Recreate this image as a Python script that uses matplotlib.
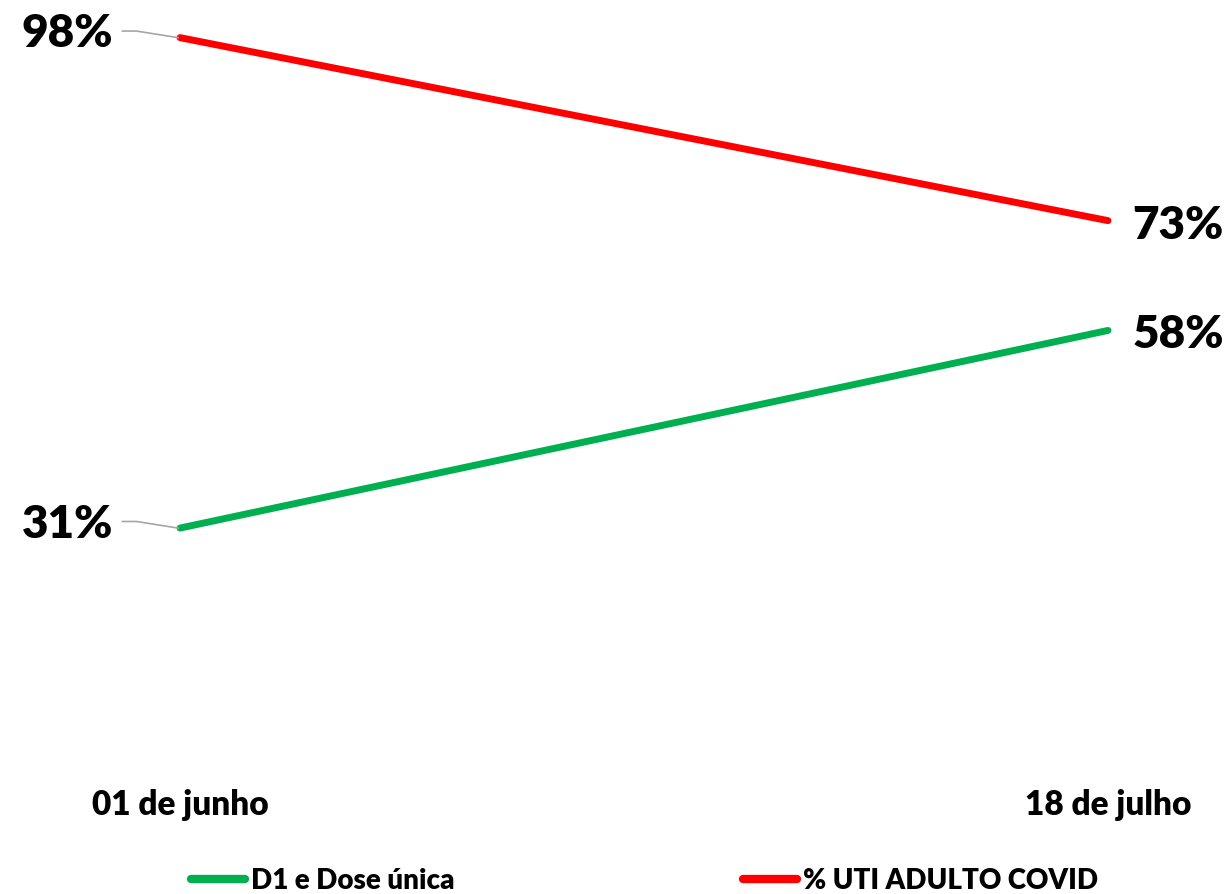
import matplotlib
matplotlib.use('Agg')
import matplotlib.pyplot as plt
from matplotlib.lines import Line2D

# data
datas = ['01 de junho', '18 de julho']
d1_dose_unica = [0.31, 0.58]
uti_adulto = [0.98, 0.73]
series_names = ['D1 e Dose única', '% UTI ADULTO COVID']
cores = ['#00b050', '#ff0000']

plt.rcParams['font.family'] = ['Lato', 'DejaVu Sans']
PESO = 'heavy'

W, H = 1232, 894
fig = plt.figure(figsize=(W / 100, H / 100), dpi=100)
ax = fig.add_axes([0, 0, 1, 1])

# pixel layout -> data limits
x0, x1 = 180, 1108
ppx = x1 - x0
ax.set_xlim(-x0 / ppx, (W - x0) / ppx)
y_zero, ppy = 755, 732  # pixel row of 0%, pixels per 100%
ax.set_ylim(-(H - y_zero) / ppy, y_zero / ppy)
ax.axis('off')

xs = list(range(len(datas)))
for vals, nome, cor in zip([d1_dose_unica, uti_adulto], series_names, cores):
    ax.plot(xs, vals, color=cor, lw=5, solid_capstyle='round', label=nome)

def pct(v):
    return f'{round(v * 100)}%'

# left labels with leader lines
for vals in (uti_adulto, d1_dose_unica):
    v = vals[0]
    dy = 0.009
    ax.plot([-0.062, -0.047, -0.002], [v + dy, v + dy, v], color='#a6a6a6', lw=1.2)
    ax.text(-0.072, v + dy - 0.004, pct(v), ha='right', va='center', fontsize=33, fontweight=PESO)

# right labels
for vals in (uti_adulto, d1_dose_unica):
    v = vals[1]
    ax.text(1.026, v - 0.006, pct(v), ha='left', va='center', fontsize=33, fontweight=PESO)

# category labels
for x, lab in zip(xs, datas):
    ax.text(x, -0.068, lab, ha='center', va='center', fontsize=24, fontweight=PESO)

handles = [Line2D([], [], color=c, lw=6, solid_capstyle='round') for c in cores]
fig.legend(handles, series_names, loc='center left', bbox_to_anchor=(191 / W, 1 - 881 / H),
           ncol=2, frameon=False, prop={'size': 20, 'weight': PESO},
           handlelength=1.95, handletextpad=0.2,
           columnspacing=10.4, borderaxespad=0, borderpad=0)

fig.savefig('out.png', dpi=100)
